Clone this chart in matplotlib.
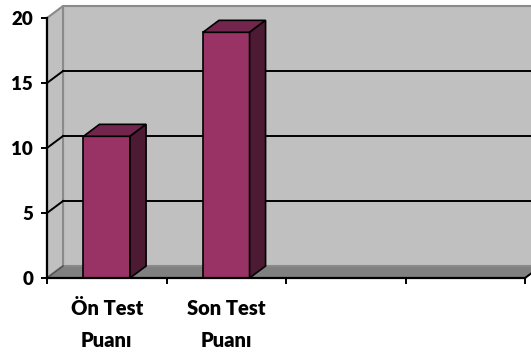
import numpy as np
import matplotlib
matplotlib.use("Agg")
import matplotlib.pyplot as plt
from matplotlib.patches import Polygon

plt.rcParams['font.family'] = ['Lato', 'DejaVu Sans']

# chart data
categories = ["Ön Test\nPuanı", "Son Test\nPuanı", "", ""]
values = [10.9, 18.9]
yticks = [0, 5, 10, 15, 20]

# colours of the 3d column chart
wall_col = "#c0c0c0"
floor_col = "#808080"
edge_gray = "#8a8a8a"
front_col = "#993366"
top_col = "#73264d"
side_col = "#4d1a33"

n_cat = len(categories)
ymax = 20
dx, dy = 0.134, 0.92      # depth offset of the back plane (data units)
bar_w = 0.39

fig = plt.figure(figsize=(5.31, 3.52), dpi=100)
ax = fig.add_axes([47 / 531, 74 / 352, 478 / 531, 260 / 352])
ax.set_xlim(0, n_cat)
ax.set_ylim(0, ymax)
ax.patch.set_visible(False)


def poly(pts, fc, ec="black", lw=1.2, z=1):
    ax.add_patch(Polygon(pts, closed=True, facecolor=fc, edgecolor=ec,
                         linewidth=lw, zorder=z, clip_on=False))


# back wall, side wall and floor
poly([(dx, dy), (n_cat + dx, dy), (n_cat + dx, ymax + dy), (dx, ymax + dy)],
     wall_col, ec=edge_gray, lw=1.5, z=0.5)
poly([(0, 0), (dx, dy), (dx, ymax + dy), (0, ymax)],
     wall_col, ec=edge_gray, lw=1.5, z=0.6)
poly([(0, 0), (n_cat, 0), (n_cat + dx, dy), (dx, dy)],
     floor_col, ec=edge_gray, lw=1.2, z=0.7)

# gridlines on the walls
for v in yticks[1:-1]:
    ax.plot([dx, n_cat + dx], [v + dy, v + dy], color="black", lw=1.4,
            zorder=0.8, clip_on=False)
    ax.plot([0, dx], [v, v + dy], color="black", lw=1.4, zorder=0.8,
            clip_on=False)
ax.plot([0, dx], [0, dy], color="#555555", lw=1.2, zorder=0.8, clip_on=False)
ax.plot([n_cat, n_cat + dx], [0, dy], color="black", lw=1.4, zorder=0.8,
        clip_on=False)

# columns: front face, top and right side
for i, v in enumerate(values):
    x0 = i + 0.5 - bar_w / 2
    x1 = x0 + bar_w
    poly([(x0, 0), (x1, 0), (x1, v), (x0, v)], front_col, z=2)
    poly([(x0, v), (x1, v), (x1 + dx, v + dy), (x0 + dx, v + dy)], top_col, z=2)
    poly([(x1, 0), (x1 + dx, dy), (x1 + dx, v + dy), (x1, v)], side_col, z=2)

# axes
for s in ["top", "right"]:
    ax.spines[s].set_visible(False)
for s in ["left", "bottom"]:
    ax.spines[s].set_linewidth(1.6)
    ax.spines[s].set_zorder(3)

ax.set_yticks(yticks)
ax.set_yticklabels([str(t) for t in yticks], fontsize=13.5, fontweight="heavy")
ax.tick_params(axis="y", direction="out", length=4, width=1.4, pad=6)

ax.set_xticks(np.arange(n_cat + 1))
ax.set_xticklabels([])
ax.tick_params(axis="x", which="major", direction="out", length=4, width=1.4)
ax.set_xticks(np.arange(n_cat) + 0.5, categories, minor=True)
ax.tick_params(axis="x", which="minor", length=0, pad=15)
for lab in ax.get_xticklabels(minor=True):
    lab.set_fontsize(14.5)
    lab.set_fontweight("heavy")
    lab.set_linespacing(1.8)

fig.savefig("out.png", dpi=100)
